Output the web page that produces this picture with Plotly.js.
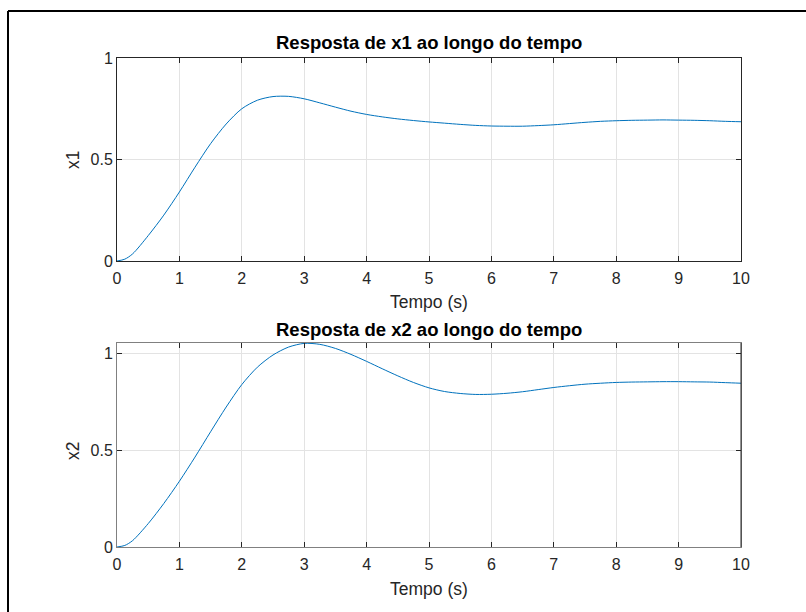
<!DOCTYPE html>
<html>
<head>
<meta charset="utf-8">
<script src="https://cdn.plot.ly/plotly-3.0.1.min.js"></script>
<style>html,body{margin:0;padding:0;background:#fff;}#chart{width:806px;height:612px;}</style>
</head>
<body>
<div id="chart"></div>
<script>
// Time samples (s)
const t = [0, 0.125, 0.25, 0.5, 0.75, 1, 1.25, 1.5, 1.75, 2, 2.25, 2.5, 2.75, 3, 3.25, 3.5, 3.75, 4, 4.25, 4.5, 4.75, 5, 5.25, 5.5, 5.75, 6, 6.25, 6.5, 6.75, 7, 7.25, 7.5, 7.75, 8, 8.25, 8.5, 8.75, 9, 9.25, 9.5, 9.75, 10];
// x1 response
const x1 = [0, 0.009, 0.035, 0.125, 0.226, 0.340, 0.462, 0.578, 0.675, 0.750, 0.792, 0.810, 0.811, 0.799, 0.779, 0.758, 0.738, 0.722, 0.710, 0.700, 0.692, 0.685, 0.679, 0.673, 0.668, 0.665, 0.664, 0.664, 0.667, 0.671, 0.677, 0.683, 0.688, 0.691, 0.693, 0.694, 0.695, 0.694, 0.693, 0.691, 0.688, 0.686];
// x2 response
const x2 = [0, 0.008, 0.033, 0.121, 0.225, 0.340, 0.465, 0.596, 0.724, 0.840, 0.930, 0.993, 1.034, 1.053, 1.048, 1.027, 0.996, 0.960, 0.922, 0.885, 0.851, 0.823, 0.804, 0.794, 0.789, 0.790, 0.795, 0.803, 0.814, 0.825, 0.834, 0.842, 0.847, 0.851, 0.853, 0.854, 0.855, 0.855, 0.854, 0.853, 0.850, 0.847];

const titles = ["Resposta de x1 ao longo do tempo", "Resposta de x2 ao longo do tempo"];
const yLabels = ["x1", "x2"];
const xLabel = "Tempo (s)";
const xTicks = [0,1,2,3,4,5,6,7,8,9,10];
const yTicks = [0, 0.5, 1];
const yTickText = ["0", "0.5", "1"];

const FONT = "Liberation Sans, Arial, Helvetica, sans-serif";
const dark = "#262626";
const grid = "#e3e3e3";
const lineColor = "#0072BD";

const xd = [117/806, 741/806];
const yd1 = [(612-261)/612, (612-58)/612];
const yd2 = [(612-547)/612, (612-343)/612];

function xax(anchor, lc){
  return {domain: xd, anchor: anchor, range:[0,10], tickvals: xTicks, ticktext: xTicks.map(String),
    ticks:'inside', ticklen:5, tickcolor: dark, tickwidth:1, showline:true, linecolor: lc, linewidth:1,
    mirror:'ticks', showgrid:true, gridcolor: grid, gridwidth:1, zeroline:false, ticklabelstandoff:3,
    tickfont:{family: FONT, size:16, color: dark}, fixedrange:true};
}
function yax(anchor, range, lc){
  return {domain: anchor==='x'?yd1:yd2, anchor: anchor, range: range, tickvals: yTicks, ticktext: yTickText,
    ticks:'inside', ticklen:5, tickcolor: dark, tickwidth:1, showline:true, linecolor: lc, linewidth:1,
    mirror:'ticks', showgrid:true, gridcolor: grid, gridwidth:1, zeroline:false,
    tickfont:{family: FONT, size:16, color: dark}, fixedrange:true};
}

const data = [
  {x: t, y: x1, type:'scatter', mode:'lines', line:{color: lineColor, width:1, shape:'spline', smoothing:0.8, simplify:false}, xaxis:'x', yaxis:'y', hoverinfo:'skip'},
  {x: t, y: x2, type:'scatter', mode:'lines', line:{color: lineColor, width:1, shape:'spline', smoothing:0.8, simplify:false}, xaxis:'x2', yaxis:'y2', hoverinfo:'skip'}
];

const ann = [];
function addText(text, x, y, size, bold, angle){
  ann.push({text: bold ? '<b>'+text+'</b>' : text, x: x/806, y: 1 - y/612, xref:'paper', yref:'paper',
    xanchor:'center', yanchor:'middle', showarrow:false, textangle: angle||0,
    font:{family: FONT, size: size, color: bold ? '#000' : dark}});
}
addText(titles[0], 429, 43, 18.5, true);
addText(titles[1], 429, 329, 18.5, true);
addText(xLabel, 429, 302, 17.5, false);
addText(xLabel, 429, 589, 17.5, false);
addText(yLabels[0], 73, 160, 17.5, false, -90);
addText(yLabels[1], 73, 451, 17.5, false, -90);

const layout = {
  width: 806, height: 612, margin:{l:0,r:0,t:0,b:0},
  paper_bgcolor:'#fff', plot_bgcolor:'#fff', showlegend:false,
  xaxis: xax('y', dark), yaxis: yax('x', [0,1], dark),
  xaxis2: xax('y2', '#808080'), yaxis2: yax('x2', [0,1.055], '#808080'),
  annotations: ann,
  shapes: [
    {type:'line', xref:'paper', yref:'paper', x0:741/806, x1:741/806, y0:yd2[0], y1:yd2[1], line:{color:dark, width:1}},
    {type:'line', xref:'paper', yref:'paper', x0:8/806, x1:1.01, y0:1-11/612, y1:1-11/612, line:{color:'#000', width:2}},
    {type:'line', xref:'paper', yref:'paper', x0:8/806, x1:8/806, y0:-0.01, y1:1-11/612, line:{color:'#000', width:2}}
  ]
};

Plotly.newPlot('chart', data, layout, {displayModeBar:false, staticPlot:true});
</script>
</body>
</html>
